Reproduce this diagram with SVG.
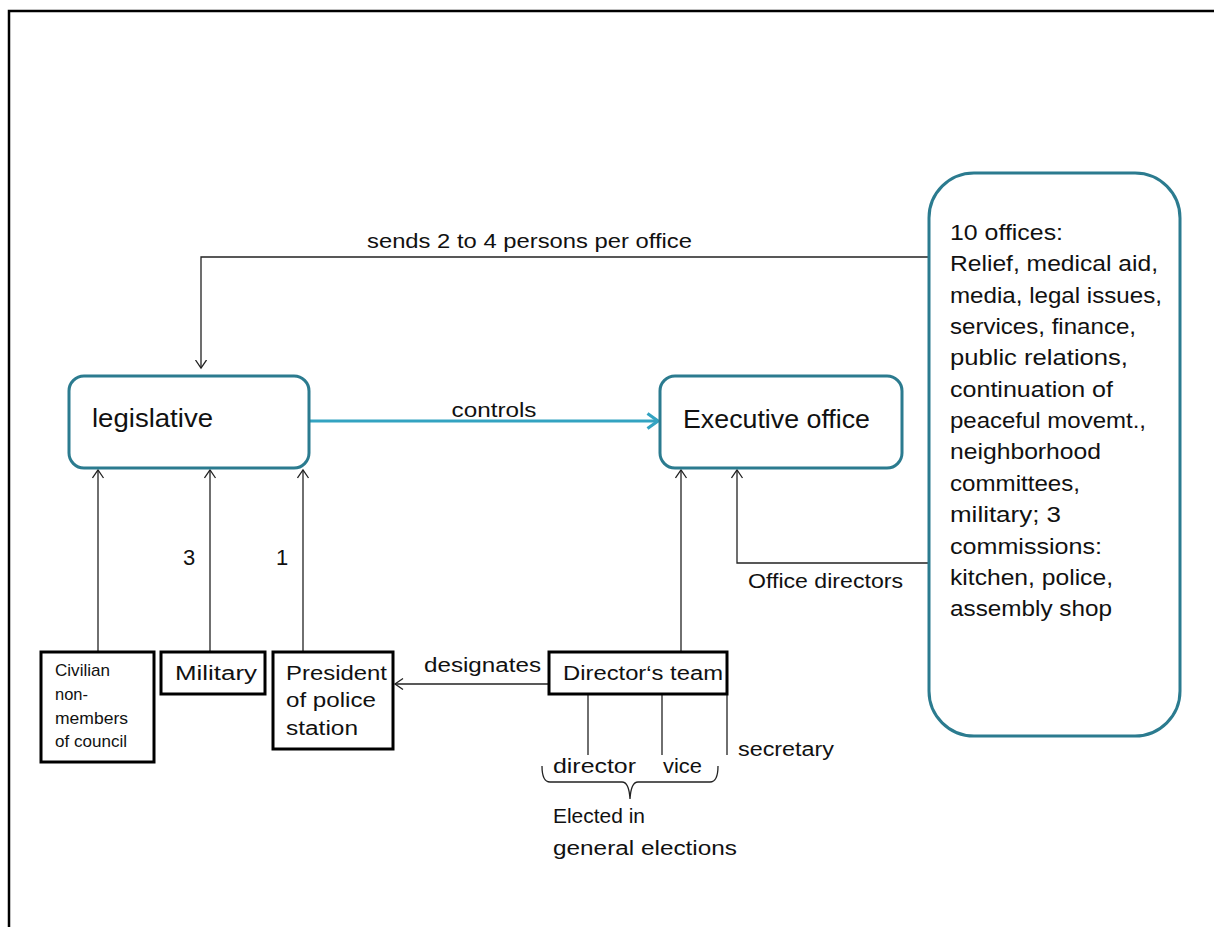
<svg xmlns="http://www.w3.org/2000/svg" width="1214" height="927" viewBox="0 0 1214 927">
  <style>
    .frame { fill: none; stroke: #000; stroke-width: 2.5; }
    .teal { fill: #fff; stroke: #2B7B8F; stroke-width: 3; }
    .box { fill: #fff; stroke: #000; stroke-width: 3; }
    .link { fill: none; stroke: #222; stroke-width: 1.3; }
    .ctrl { fill: none; stroke: #33A3C1; stroke-width: 3.2; }
    text { font-family: "Liberation Sans", Arial, sans-serif; fill: #111; }
    .big { font-size: 25px; }
    .list { font-size: 22px; }
    .mid { font-size: 20px; }
    .num { font-size: 22px; }
    .small { font-size: 17px; }
  </style>
  <defs>
    <marker id="open" markerUnits="userSpaceOnUse" markerWidth="12" markerHeight="14" refX="8.5" refY="6" orient="auto">
      <path d="M0.5,0.5 L8.5,6 L0.5,11.5" fill="none" stroke="#222" stroke-width="1.3"/>
    </marker>
    <marker id="openTeal" markerUnits="userSpaceOnUse" markerWidth="16" markerHeight="20" refX="12" refY="9" orient="auto">
      <path d="M1.5,1.5 L12,9 L1.5,16.5" fill="none" stroke="#33A3C1" stroke-width="3.2"/>
    </marker>
  </defs>

  <rect width="1214" height="927" fill="#fff"/>
  <!-- page frame -->
  <rect class="frame" x="9" y="11" width="1222" height="935"/>

  <!-- connectors -->
  <g id="connectors">
    <path class="link" d="M929,257 H201 V368" marker-end="url(#open)"/>
    <line class="ctrl" x1="310" y1="421" x2="658" y2="421" marker-end="url(#openTeal)"/>
    <line class="link" x1="98" y1="652" x2="98" y2="470" marker-end="url(#open)"/>
    <line class="link" x1="210" y1="652" x2="210" y2="470" marker-end="url(#open)"/>
    <line class="link" x1="303" y1="652" x2="303" y2="470" marker-end="url(#open)"/>
    <line class="link" x1="681" y1="652" x2="681" y2="470" marker-end="url(#open)"/>
    <path class="link" d="M929,563 H737 V470" marker-end="url(#open)"/>
    <line class="link" x1="549" y1="684" x2="395" y2="684" marker-end="url(#open)"/>
    <line class="link" x1="588" y1="694" x2="588" y2="755"/>
    <line class="link" x1="662" y1="694" x2="662" y2="755"/>
    <line class="link" x1="727" y1="694" x2="727" y2="755"/>
    <path class="link" d="M542,766 Q542,782 550,782 L622,782 Q629,782 630,799 Q631,782 638,782 L710,782 Q718,782 718,766"/>

    <text class="mid" x="529.5" y="248" text-anchor="middle" textLength="325" lengthAdjust="spacingAndGlyphs">sends 2 to 4 persons per office</text>
    <text class="mid" x="494" y="417" text-anchor="middle" textLength="85" lengthAdjust="spacingAndGlyphs">controls</text>
    <text class="num" x="189" y="565" text-anchor="middle">3</text>
    <text class="num" x="282" y="565" text-anchor="middle">1</text>
    <text class="mid" x="748" y="588" textLength="155" lengthAdjust="spacingAndGlyphs">Office directors</text>
    <text class="mid" x="424" y="672" textLength="117" lengthAdjust="spacingAndGlyphs">designates</text>
    <text class="mid" x="553" y="773" textLength="83" lengthAdjust="spacingAndGlyphs">director</text>
    <text class="mid" x="663" y="773" textLength="39" lengthAdjust="spacingAndGlyphs">vice</text>
    <text class="mid" x="738" y="756" textLength="96" lengthAdjust="spacingAndGlyphs">secretary</text>
    <text class="mid" x="553" y="823" textLength="92" lengthAdjust="spacingAndGlyphs">Elected in</text>
    <text class="mid" x="553" y="855" textLength="184" lengthAdjust="spacingAndGlyphs">general elections</text>
  </g>

  <g id="legislative">
    <rect class="teal" x="69" y="376" width="240" height="92" rx="15"/>
    <text class="big" x="92" y="427" textLength="121" lengthAdjust="spacingAndGlyphs">legislative</text>
  </g>

  <g id="executive-office">
    <rect class="teal" x="660" y="376" width="242" height="92" rx="15"/>
    <text class="big" x="683" y="428" textLength="187" lengthAdjust="spacingAndGlyphs">Executive office</text>
  </g>

  <g id="offices">
    <rect class="teal" x="929" y="173" width="251" height="563" rx="45"/>
    <g class="list">
      <text x="950" y="240" textLength="113" lengthAdjust="spacingAndGlyphs">10 offices:</text>
      <text x="950" y="271" textLength="208" lengthAdjust="spacingAndGlyphs">Relief, medical aid,</text>
      <text x="950" y="303" textLength="212" lengthAdjust="spacingAndGlyphs">media, legal issues,</text>
      <text x="950" y="334" textLength="186" lengthAdjust="spacingAndGlyphs">services, finance,</text>
      <text x="950" y="365" textLength="178" lengthAdjust="spacingAndGlyphs">public relations,</text>
      <text x="950" y="397" textLength="163" lengthAdjust="spacingAndGlyphs">continuation of</text>
      <text x="950" y="428" textLength="196" lengthAdjust="spacingAndGlyphs">peaceful movemt.,</text>
      <text x="950" y="459" textLength="151" lengthAdjust="spacingAndGlyphs">neighborhood</text>
      <text x="950" y="491" textLength="130" lengthAdjust="spacingAndGlyphs">committees,</text>
      <text x="950" y="522" textLength="111" lengthAdjust="spacingAndGlyphs">military; 3</text>
      <text x="950" y="554" textLength="152" lengthAdjust="spacingAndGlyphs">commissions:</text>
      <text x="950" y="585" textLength="163" lengthAdjust="spacingAndGlyphs">kitchen, police,</text>
      <text x="950" y="616" textLength="162" lengthAdjust="spacingAndGlyphs">assembly shop</text>
    </g>
  </g>

  <g id="civilian">
    <rect class="box" x="41" y="652" width="113" height="110"/>
    <g class="small">
      <text x="55" y="676" textLength="55" lengthAdjust="spacingAndGlyphs">Civilian</text>
      <text x="55" y="700" textLength="33" lengthAdjust="spacingAndGlyphs">non-</text>
      <text x="55" y="724" textLength="73" lengthAdjust="spacingAndGlyphs">members</text>
      <text x="55" y="747" textLength="72" lengthAdjust="spacingAndGlyphs">of council</text>
    </g>
  </g>

  <g id="military">
    <rect class="box" x="161" y="652" width="104" height="42"/>
    <text class="mid" x="175" y="680" textLength="82" lengthAdjust="spacingAndGlyphs">Military</text>
  </g>

  <g id="police-president">
    <rect class="box" x="273" y="652" width="120" height="97"/>
    <text class="mid" x="286" y="680" textLength="101" lengthAdjust="spacingAndGlyphs">President</text>
    <text class="mid" x="286" y="707" textLength="90" lengthAdjust="spacingAndGlyphs">of police</text>
    <text class="mid" x="286" y="735" textLength="72" lengthAdjust="spacingAndGlyphs">station</text>
  </g>

  <g id="directors-team">
    <rect class="box" x="549" y="652" width="178" height="42"/>
    <text class="mid" x="563" y="680" textLength="160" lengthAdjust="spacingAndGlyphs">Director‘s team</text>
  </g>
</svg>
